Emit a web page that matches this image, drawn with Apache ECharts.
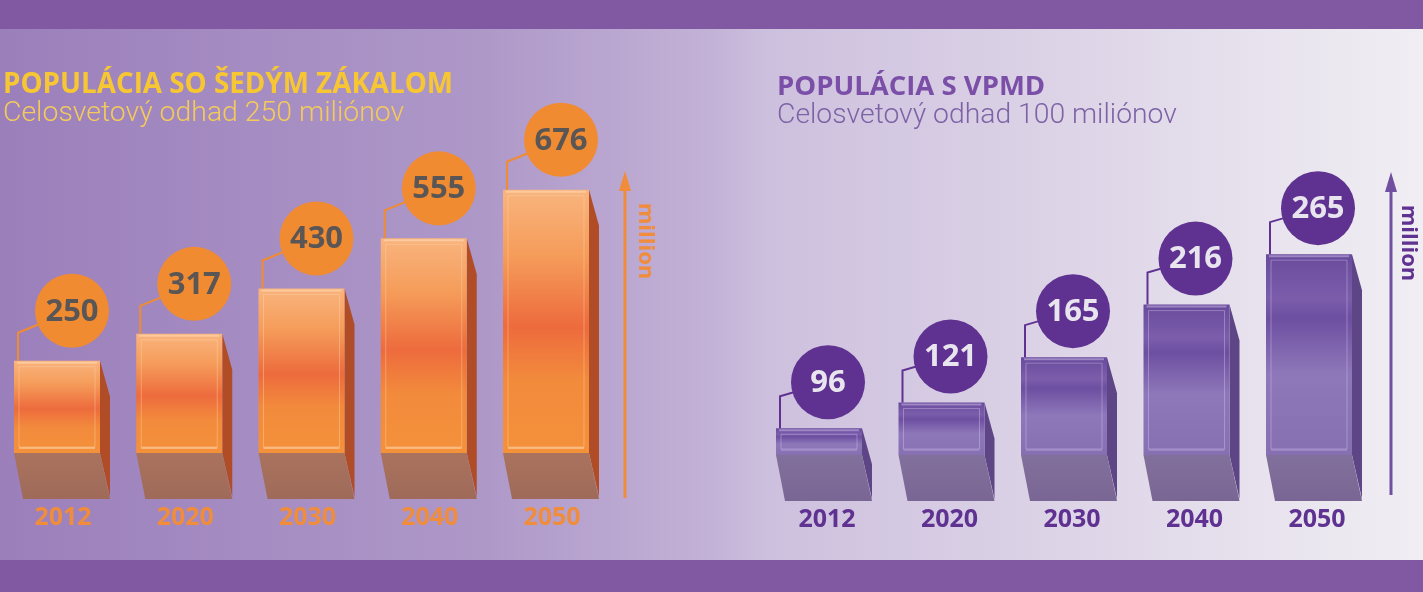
<!DOCTYPE html>
<html>
<head>
<meta charset="utf-8">
<script src="https://cdn.jsdelivr.net/npm/echarts@6.0.0/dist/echarts.min.js"></script>
<style>
  html, body { margin: 0; padding: 0; overflow: hidden; }
  #chart { width: 1423px; height: 592px; }
</style>
</head>
<body>
<div id="chart"></div>
<script>
// data
var years = ['2012', '2020', '2030', '2040', '2050'];
var cataract = [250, 317, 430, 555, 676];   // populácia so šedým zákalom (mil.)
var vpmd = [96, 121, 165, 216, 265];        // populácia s VPMD (mil.)

var leftMin = 20, leftMax = 800;
var rightMin = 70, rightMax = 370;

var chart = echarts.init(document.getElementById('chart'));

// 3D box + bubble for one bar
function makeBox(c, axisMin) {
  return function (params, api) {
    var idx = api.value(0);
    var p = api.coord([idx, api.value(1)]);
    var b = api.coord([idx, axisMin]);
    var w = 86;
    var x0 = p[0] - w / 2, x1 = p[0] + w / 2;
    var top = p[1], bot = b[1];
    var cx = x0 + c.cdx, cy = top - c.cdy;
    return {
      type: 'group',
      children: [
        { type: 'polygon', shape: { points: [[x1, top], [x1 + 10, top + 36], [x1 + 10, bot + 44], [x1, bot]] },
          style: { fill: c.side } },
        { type: 'rect', shape: { x: x0, y: top, width: w, height: bot - top },
          style: { fill: new echarts.graphic.LinearGradient(0, 0, 0, 1, c.front) } },
        { type: 'line', shape: { x1: x0 + 3, y1: top + 2, x2: x1 - 3, y2: top + 2 },
          style: { stroke: c.hi, lineWidth: 2 } },
        { type: 'rect', shape: { x: x0 + 5, y: top + 6, width: w - 10, height: bot - top - 12 },
          style: { fill: 'none', stroke: c.edge, lineWidth: 1 } },
        { type: 'line', shape: { x1: x0 + 5, y1: bot - 5, x2: x1 - 5, y2: bot - 5 },
          style: { stroke: c.hi, lineWidth: 1.5 } },
        { type: 'polygon', shape: { points: [[x0, bot], [x1, bot], [x1 + 10, bot + 46], [x0 + 9, bot + 46]] },
          style: { fill: new echarts.graphic.LinearGradient(0, 0, 0, 1, c.base) } },
        { type: 'polyline', shape: { points: [[x0 + 4, top], [x0 + 4, top - c.lead], [cx, cy]] },
          style: { stroke: c.dot, lineWidth: 2, fill: 'none' } },
        { type: 'circle', shape: { cx: cx, cy: cy, r: 37 }, style: { fill: c.dot } },
        { type: 'text', x: cx, y: cy + 1,
          style: { text: String(api.value(1)), fill: c.num, font: 'bold 31px "Open Sans"',
                   align: 'center', verticalAlign: 'middle' } }
      ]
    };
  };
}

var orange = {
  side: '#b04c26',
  front: [
    { offset: 0, color: '#f9b47e' },
    { offset: 0.25, color: '#f59c5a' },
    { offset: 0.52, color: '#ed6b3d' },
    { offset: 0.72, color: '#f28a3c' },
    { offset: 1, color: '#f4913b' }
  ],
  hi: 'rgba(252,207,164,0.8)',
  edge: 'rgba(255,214,170,0.4)',
  base: [{ offset: 0, color: '#a9735e' }, { offset: 1, color: '#a06a5a' }],
  dot: '#f18b31',
  num: '#5b5656',
  cdx: 58, cdy: 50, lead: 28
};

var purple = {
  side: '#5d4586',
  front: [
    { offset: 0, color: '#694a9c' },
    { offset: 0.22, color: '#7b5dac' },
    { offset: 0.32, color: '#6d4fa1' },
    { offset: 0.6, color: '#8f78ba' },
    { offset: 1, color: '#8670b2' }
  ],
  hi: 'rgba(170,150,205,0.8)',
  edge: 'rgba(215,200,240,0.4)',
  base: [{ offset: 0, color: '#82709c' }, { offset: 1, color: '#7a6694' }],
  dot: '#5f3291',
  num: '#e9e5ef',
  cdx: 52, cdy: 46, lead: 32
};

var option = {
  animation: false,
  graphic: [
    { type: 'rect', z: -10, silent: true, shape: { x: 0, y: 0, width: 1423, height: 592 },
      style: { fill: new echarts.graphic.LinearGradient(0, 0, 1, 0, [
        { offset: 0, color: '#9b7fbb' },
        { offset: 0.34, color: '#ae98c8' },
        { offset: 0.5, color: '#c3b2d7' },
        { offset: 0.54, color: '#cdc0de' },
        { offset: 0.75, color: '#ddd4e7' },
        { offset: 1, color: '#f0eef3' }
      ]) } },
    { type: 'rect', silent: true, shape: { x: 0, y: 0, width: 1423, height: 29 }, style: { fill: '#8159a2' } },
    { type: 'rect', silent: true, shape: { x: 0, y: 560, width: 1423, height: 32 }, style: { fill: '#8159a2' } },

    { type: 'text', x: 3, y: 85, style: { text: 'POPULÁCIA SO ŠEDÝM ZÁKALOM', fill: '#f7c733',
        font: 'bold 27.8px "Open Sans"', verticalAlign: 'middle' } },
    { type: 'text', x: 3, y: 114, style: { text: 'Celosvetový odhad 250 miliónov', fill: '#f4cb5a',
        font: '300 28.4px Roboto', verticalAlign: 'middle' } },
    { type: 'text', x: 777, y: 87, style: { text: 'POPULÁCIA S VPMD', fill: '#7b4fa8',
        font: 'bold 27.5px "Open Sans"', verticalAlign: 'middle' } },
    { type: 'text', x: 777, y: 116, style: { text: 'Celosvetový odhad 100 miliónov', fill: '#7d62a6',
        font: '300 28.3px Roboto', verticalAlign: 'middle' } },

    // arrows + unit
    { type: 'line', shape: { x1: 625, y1: 498, x2: 625, y2: 186 }, style: { stroke: '#f08c3a', lineWidth: 3 } },
    { type: 'polygon', shape: { points: [[619, 191], [625, 171], [631, 191]] }, style: { fill: '#f08c3a' } },
    { type: 'text', x: 645, y: 241, rotation: -Math.PI / 2,
      style: { text: 'million', fill: '#f08c3a', font: 'bold 22px "Open Sans"', align: 'center', verticalAlign: 'middle' } },
    { type: 'line', shape: { x1: 1391, y1: 495, x2: 1391, y2: 186 }, style: { stroke: '#7150a0', lineWidth: 3 } },
    { type: 'polygon', shape: { points: [[1385, 192], [1391, 172], [1397, 192]] }, style: { fill: '#7150a0' } },
    { type: 'text', x: 1408, y: 243, rotation: -Math.PI / 2,
      style: { text: 'million', fill: '#5f3291', font: 'bold 22px "Open Sans"', align: 'center', verticalAlign: 'middle' } }
  ],
  grid: [
    { left: 57, width: 489, top: 140, bottom: 139 },
    { left: 819, width: 490, top: 146, bottom: 137 }
  ],
  xAxis: [
    { gridIndex: 0, type: 'category', data: years, boundaryGap: false,
      axisLine: { show: false }, axisTick: { show: false }, splitLine: { show: false },
      axisLabel: { margin: 52, color: '#ef8d3c', fontSize: 25, fontWeight: 'bold',
                   fontFamily: 'Open Sans', padding: [0, 0, 0, 12] } },
    { gridIndex: 1, type: 'category', data: years, boundaryGap: false,
      axisLine: { show: false }, axisTick: { show: false }, splitLine: { show: false },
      axisLabel: { margin: 52, color: '#5f3291', fontSize: 25, fontWeight: 'bold',
                   fontFamily: 'Open Sans', padding: [0, 0, 0, 16] } }
  ],
  yAxis: [
    { gridIndex: 0, type: 'value', min: leftMin, max: leftMax, show: false },
    { gridIndex: 1, type: 'value', min: rightMin, max: rightMax, show: false }
  ],
  series: [
    { type: 'custom', xAxisIndex: 0, yAxisIndex: 0, clip: false,
      renderItem: makeBox(orange, leftMin),
      data: cataract.map(function (v, i) { return [i, v]; }) },
    { type: 'custom', xAxisIndex: 1, yAxisIndex: 1, clip: false,
      renderItem: makeBox(purple, rightMin),
      data: vpmd.map(function (v, i) { return [i, v]; }) }
  ]
};

chart.setOption(option);
</script>
</body>
</html>
